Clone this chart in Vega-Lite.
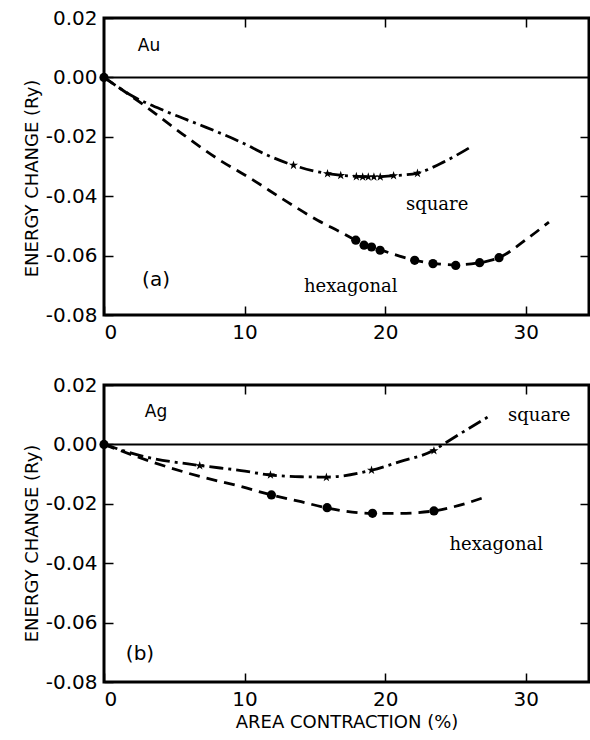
{
  "$schema": "https://vega.github.io/schema/vega-lite/v6.json",
  "padding": {"left": 21, "top": 6, "right": 0, "bottom": 0},
  "background": "white",
  "spacing": 29,
  "datasets": {
    "curves": [
      {"p": "a", "s": "square", "x": 0, "y": 0},
      {"p": "a", "s": "square", "x": 1.92, "y": -0.006},
      {"p": "a", "s": "square", "x": 4.53, "y": -0.0117},
      {"p": "a", "s": "square", "x": 6.89, "y": -0.0161},
      {"p": "a", "s": "square", "x": 9.74, "y": -0.0218},
      {"p": "a", "s": "square", "x": 11.63, "y": -0.0262},
      {"p": "a", "s": "square", "x": 13.48, "y": -0.0296},
      {"p": "a", "s": "square", "x": 15.9, "y": -0.0324},
      {"p": "a", "s": "square", "x": 17.9, "y": -0.0333},
      {"p": "a", "s": "square", "x": 19.2, "y": -0.0335},
      {"p": "a", "s": "square", "x": 20.6, "y": -0.0331},
      {"p": "a", "s": "square", "x": 22.3, "y": -0.0322},
      {"p": "a", "s": "square", "x": 23.95, "y": -0.029},
      {"p": "a", "s": "square", "x": 26.2, "y": -0.0231},
      {"p": "a", "s": "hexagonal", "x": 0, "y": 0},
      {"p": "a", "s": "hexagonal", "x": 2.86, "y": -0.0094},
      {"p": "a", "s": "hexagonal", "x": 5.71, "y": -0.0195},
      {"p": "a", "s": "hexagonal", "x": 8.08, "y": -0.0274},
      {"p": "a", "s": "hexagonal", "x": 10.45, "y": -0.0341},
      {"p": "a", "s": "hexagonal", "x": 13.06, "y": -0.042},
      {"p": "a", "s": "hexagonal", "x": 15.19, "y": -0.0481},
      {"p": "a", "s": "hexagonal", "x": 16.84, "y": -0.0521},
      {"p": "a", "s": "hexagonal", "x": 17.91, "y": -0.0548},
      {"p": "a", "s": "hexagonal", "x": 19.64, "y": -0.058},
      {"p": "a", "s": "hexagonal", "x": 22.1, "y": -0.0615},
      {"p": "a", "s": "hexagonal", "x": 23.4, "y": -0.0626},
      {"p": "a", "s": "hexagonal", "x": 25.02, "y": -0.0631},
      {"p": "a", "s": "hexagonal", "x": 26.72, "y": -0.0624},
      {"p": "a", "s": "hexagonal", "x": 28.1, "y": -0.0607},
      {"p": "a", "s": "hexagonal", "x": 30.11, "y": -0.0543},
      {"p": "a", "s": "hexagonal", "x": 31.65, "y": -0.0487},
      {"p": "b", "s": "square", "x": 0, "y": 0},
      {"p": "b", "s": "square", "x": 2.87, "y": -0.0041},
      {"p": "b", "s": "square", "x": 6.81, "y": -0.0071},
      {"p": "b", "s": "square", "x": 9.75, "y": -0.0088},
      {"p": "b", "s": "square", "x": 11.84, "y": -0.0103},
      {"p": "b", "s": "square", "x": 14.02, "y": -0.0109},
      {"p": "b", "s": "square", "x": 15.85, "y": -0.011},
      {"p": "b", "s": "square", "x": 19.03, "y": -0.0087},
      {"p": "b", "s": "square", "x": 21.05, "y": -0.0058},
      {"p": "b", "s": "square", "x": 23.45, "y": -0.002},
      {"p": "b", "s": "square", "x": 24.25, "y": 0.0004},
      {"p": "b", "s": "square", "x": 27.33, "y": 0.0093},
      {"p": "b", "s": "hexagonal", "x": 0, "y": 0},
      {"p": "b", "s": "hexagonal", "x": 3.35, "y": -0.0058},
      {"p": "b", "s": "hexagonal", "x": 6.9, "y": -0.0109},
      {"p": "b", "s": "hexagonal", "x": 9.75, "y": -0.0142},
      {"p": "b", "s": "hexagonal", "x": 11.9, "y": -0.017},
      {"p": "b", "s": "hexagonal", "x": 14.02, "y": -0.0193},
      {"p": "b", "s": "hexagonal", "x": 15.87, "y": -0.0214},
      {"p": "b", "s": "hexagonal", "x": 19.05, "y": -0.0232},
      {"p": "b", "s": "hexagonal", "x": 21.05, "y": -0.0232},
      {"p": "b", "s": "hexagonal", "x": 23.45, "y": -0.0224},
      {"p": "b", "s": "hexagonal", "x": 27.33, "y": -0.0174}
    ],
    "markers": [
      {"p": "a", "s": "origin", "x": 0, "y": 0},
      {"p": "a", "s": "square", "x": 13.48, "y": -0.0296},
      {"p": "a", "s": "square", "x": 15.9, "y": -0.0324},
      {"p": "a", "s": "square", "x": 16.84, "y": -0.033},
      {"p": "a", "s": "square", "x": 17.95, "y": -0.0334},
      {"p": "a", "s": "square", "x": 18.4, "y": -0.0335},
      {"p": "a", "s": "square", "x": 18.8, "y": -0.0335},
      {"p": "a", "s": "square", "x": 19.2, "y": -0.0335},
      {"p": "a", "s": "square", "x": 19.65, "y": -0.0335},
      {"p": "a", "s": "square", "x": 20.6, "y": -0.0331},
      {"p": "a", "s": "square", "x": 22.3, "y": -0.0323},
      {"p": "a", "s": "hexagonal", "x": 17.91, "y": -0.0548},
      {"p": "a", "s": "hexagonal", "x": 18.5, "y": -0.0565},
      {"p": "a", "s": "hexagonal", "x": 19.03, "y": -0.0571},
      {"p": "a", "s": "hexagonal", "x": 19.64, "y": -0.0582},
      {"p": "a", "s": "hexagonal", "x": 22.1, "y": -0.0616},
      {"p": "a", "s": "hexagonal", "x": 23.4, "y": -0.0627},
      {"p": "a", "s": "hexagonal", "x": 25.02, "y": -0.0633},
      {"p": "a", "s": "hexagonal", "x": 26.72, "y": -0.0624},
      {"p": "a", "s": "hexagonal", "x": 28.1, "y": -0.0607},
      {"p": "b", "s": "origin", "x": 0, "y": 0},
      {"p": "b", "s": "square", "x": 6.81, "y": -0.0072},
      {"p": "b", "s": "square", "x": 11.84, "y": -0.0103},
      {"p": "b", "s": "square", "x": 15.82, "y": -0.0111},
      {"p": "b", "s": "square", "x": 19.03, "y": -0.0087},
      {"p": "b", "s": "square", "x": 23.47, "y": -0.0021},
      {"p": "b", "s": "hexagonal", "x": 11.91, "y": -0.017},
      {"p": "b", "s": "hexagonal", "x": 15.87, "y": -0.0213},
      {"p": "b", "s": "hexagonal", "x": 19.1, "y": -0.0232},
      {"p": "b", "s": "hexagonal", "x": 23.47, "y": -0.0224}
    ],
    "labels": [
      {"p": "a", "k": "metal", "t": "Au", "x": 3.2, "y": 0.0106},
      {"p": "a", "k": "panel", "t": "(a)", "x": 3.7, "y": -0.0682},
      {"p": "a", "k": "struct", "t": "square", "x": 23.7, "y": -0.043},
      {"p": "a", "k": "struct", "t": "hexagonal", "x": 17.55, "y": -0.0706},
      {"p": "b", "k": "metal", "t": "Ag", "x": 3.7, "y": 0.0109},
      {"p": "b", "k": "panel", "t": "(b)", "x": 2.56, "y": -0.0706},
      {"p": "b", "k": "struct", "t": "square", "x": 30.96, "y": 0.0096},
      {"p": "b", "k": "struct", "t": "hexagonal", "x": 27.9, "y": -0.0339}
    ]
  },
  "vconcat": [
    {
      "width": 485, "height": 297,
      "resolve": {"axis": {"x": "independent", "y": "independent"}},
      "layer": [
        {"data": {"values": [{"zero": 0}]}, "mark": {"type": "rule", "color": "black", "strokeWidth": 2},
         "encoding": {"y": {"field": "zero", "type": "quantitative", "axis": null, "scale": {"domain": [-0.08, 0.02], "nice": false}}}},
        {"data": {"name": "curves"}, "transform": [{"filter": "datum.p == 'a' && datum.s == 'square'"}],
         "mark": {"type": "line", "color": "black", "strokeWidth": 2.8, "interpolate": "monotone", "strokeDash": [14, 5, 3, 5]},
         "encoding": {
           "x": {"field": "x", "type": "quantitative", "scale": {"domain": [0, 34.5], "nice": false, "zero": false},
                 "axis": {"orient": "bottom", "values": [0, 10, 20, 30], "title": null}},
           "y": {"field": "y", "type": "quantitative", "scale": {"domain": [-0.08, 0.02], "nice": false},
                 "axis": {"orient": "left", "values": [-0.08, -0.06, -0.04, -0.02, 0, 0.02], "labelExpr": "datum.value < 0 ? '-' + format(-datum.value, '.2f') : format(datum.value, '.2f')", "title": "ENERGY CHANGE (Ry)", "titleY": 160}}
         }},
        {"data": {"name": "curves"}, "transform": [{"filter": "datum.p == 'a' && datum.s == 'hexagonal'"}],
         "mark": {"type": "line", "color": "black", "strokeWidth": 2.8, "interpolate": "monotone", "strokeDash": [11, 7]},
         "encoding": {
           "x": {"field": "x", "type": "quantitative", "axis": {"orient": "top", "values": [10, 20, 30], "labels": false, "title": null}},
           "y": {"field": "y", "type": "quantitative", "axis": {"orient": "right", "values": [-0.06, -0.04, -0.02], "labels": false, "title": null}}
         }},
        {"data": {"name": "markers"}, "transform": [{"filter": "datum.p == 'a' && datum.s == 'square'"}],
         "mark": {"type": "point", "shape": "M0,-1L0.2245,-0.309L0.951,-0.309L0.363,0.118L0.588,0.809L0,0.382L-0.588,0.809L-0.363,0.118L-0.951,-0.309L-0.2245,-0.309Z", "filled": true, "color": "black", "size": 90, "opacity": 1},
         "encoding": {"x": {"field": "x", "type": "quantitative", "axis": null}, "y": {"field": "y", "type": "quantitative", "axis": null}}},
        {"data": {"name": "markers"}, "transform": [{"filter": "datum.p == 'a' && datum.s != 'square'"}],
         "mark": {"type": "circle", "color": "black", "size": 85, "opacity": 1},
         "encoding": {"x": {"field": "x", "type": "quantitative", "axis": null}, "y": {"field": "y", "type": "quantitative", "axis": null}}},
        {"data": {"name": "labels"}, "transform": [{"filter": "datum.p == 'a' && datum.k == 'metal'"}],
         "mark": {"type": "text", "font": "DejaVu Sans", "fontSize": 17, "color": "black", "align": "center", "baseline": "middle"},
         "encoding": {"x": {"field": "x", "type": "quantitative", "axis": null}, "y": {"field": "y", "type": "quantitative", "axis": null}, "text": {"field": "t"}}},
        {"data": {"name": "labels"}, "transform": [{"filter": "datum.p == 'a' && datum.k == 'panel'"}],
         "mark": {"type": "text", "font": "DejaVu Sans", "fontSize": 20, "color": "black", "align": "center", "baseline": "middle"},
         "encoding": {"x": {"field": "x", "type": "quantitative", "axis": null}, "y": {"field": "y", "type": "quantitative", "axis": null}, "text": {"field": "t"}}},
        {"data": {"name": "labels"}, "transform": [{"filter": "datum.p == 'a' && datum.k == 'struct'"}],
         "mark": {"type": "text", "font": "DejaVu Serif", "fontSize": 18, "color": "black", "align": "center", "baseline": "middle"},
         "encoding": {"x": {"field": "x", "type": "quantitative", "axis": null}, "y": {"field": "y", "type": "quantitative", "axis": null}, "text": {"field": "t"}}}
      ]
    },
    {
      "width": 485, "height": 297,
      "resolve": {"axis": {"x": "independent", "y": "independent"}},
      "layer": [
        {"data": {"values": [{"zero": 0}]}, "mark": {"type": "rule", "color": "black", "strokeWidth": 2},
         "encoding": {"y": {"field": "zero", "type": "quantitative", "axis": null, "scale": {"domain": [-0.08, 0.02], "nice": false}}}},
        {"data": {"name": "curves"}, "transform": [{"filter": "datum.p == 'b' && datum.s == 'square'"}],
         "mark": {"type": "line", "color": "black", "strokeWidth": 2.8, "interpolate": "monotone", "strokeDash": [14, 5, 3, 5]},
         "encoding": {
           "x": {"field": "x", "type": "quantitative", "scale": {"domain": [0, 34.5], "nice": false, "zero": false},
                 "axis": {"orient": "bottom", "values": [0, 10, 20, 30], "title": "AREA CONTRACTION (%)"}},
           "y": {"field": "y", "type": "quantitative", "scale": {"domain": [-0.08, 0.02], "nice": false},
                 "axis": {"orient": "left", "values": [-0.08, -0.06, -0.04, -0.02, 0, 0.02], "labelExpr": "datum.value < 0 ? '-' + format(-datum.value, '.2f') : format(datum.value, '.2f')", "title": "ENERGY CHANGE (Ry)", "titleY": 158}}
         }},
        {"data": {"name": "curves"}, "transform": [{"filter": "datum.p == 'b' && datum.s == 'hexagonal'"}],
         "mark": {"type": "line", "color": "black", "strokeWidth": 2.8, "interpolate": "monotone", "strokeDash": [11, 7]},
         "encoding": {
           "x": {"field": "x", "type": "quantitative", "axis": {"orient": "top", "values": [10, 20, 30], "labels": false, "title": null}},
           "y": {"field": "y", "type": "quantitative", "axis": {"orient": "right", "values": [-0.06, -0.04, -0.02], "labels": false, "title": null}}
         }},
        {"data": {"name": "markers"}, "transform": [{"filter": "datum.p == 'b' && datum.s == 'square'"}],
         "mark": {"type": "point", "shape": "M0,-1L0.2245,-0.309L0.951,-0.309L0.363,0.118L0.588,0.809L0,0.382L-0.588,0.809L-0.363,0.118L-0.951,-0.309L-0.2245,-0.309Z", "filled": true, "color": "black", "size": 90, "opacity": 1},
         "encoding": {"x": {"field": "x", "type": "quantitative", "axis": null}, "y": {"field": "y", "type": "quantitative", "axis": null}}},
        {"data": {"name": "markers"}, "transform": [{"filter": "datum.p == 'b' && datum.s != 'square'"}],
         "mark": {"type": "circle", "color": "black", "size": 85, "opacity": 1},
         "encoding": {"x": {"field": "x", "type": "quantitative", "axis": null}, "y": {"field": "y", "type": "quantitative", "axis": null}}},
        {"data": {"name": "labels"}, "transform": [{"filter": "datum.p == 'b' && datum.k == 'metal'"}],
         "mark": {"type": "text", "font": "DejaVu Sans", "fontSize": 17, "color": "black", "align": "center", "baseline": "middle"},
         "encoding": {"x": {"field": "x", "type": "quantitative", "axis": null}, "y": {"field": "y", "type": "quantitative", "axis": null}, "text": {"field": "t"}}},
        {"data": {"name": "labels"}, "transform": [{"filter": "datum.p == 'b' && datum.k == 'panel'"}],
         "mark": {"type": "text", "font": "DejaVu Sans", "fontSize": 20, "color": "black", "align": "center", "baseline": "middle"},
         "encoding": {"x": {"field": "x", "type": "quantitative", "axis": null}, "y": {"field": "y", "type": "quantitative", "axis": null}, "text": {"field": "t"}}},
        {"data": {"name": "labels"}, "transform": [{"filter": "datum.p == 'b' && datum.k == 'struct'"}],
         "mark": {"type": "text", "font": "DejaVu Serif", "fontSize": 18, "color": "black", "align": "center", "baseline": "middle"},
         "encoding": {"x": {"field": "x", "type": "quantitative", "axis": null}, "y": {"field": "y", "type": "quantitative", "axis": null}, "text": {"field": "t"}}}
      ]
    }
  ],
  "config": {
    "view": {"stroke": "black", "strokeWidth": 3},
    "axis": {
      "domain": false, "grid": false,
      "tickSize": -9, "tickWidth": 1.5, "tickColor": "black",
      "labelFont": "DejaVu Sans", "labelFontSize": 20, "labelColor": "black", "labelPadding": 16,
      "titleFont": "DejaVu Sans", "titleFontSize": 18, "titleFontWeight": "normal", "titleColor": "black", "titlePadding": 4
    }
  }
}
